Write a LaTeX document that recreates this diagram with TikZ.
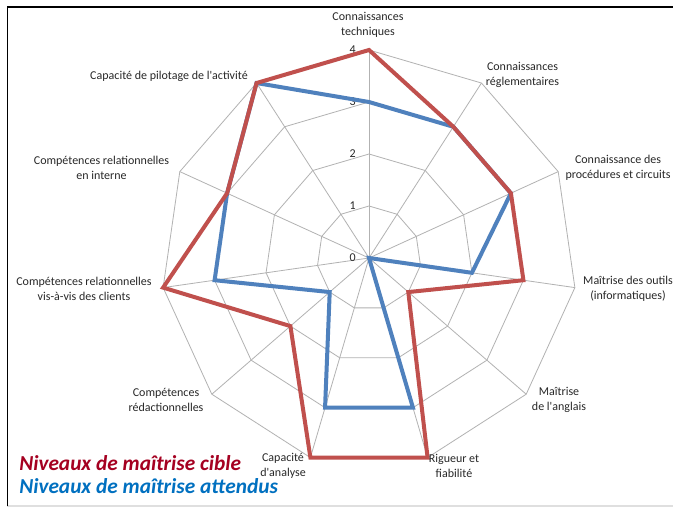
\documentclass[tikz,border=0pt]{standalone}
\usepackage{fontspec}
\setmainfont{Carlito}[Ligatures=TeXOff]
\usetikzlibrary{calc}
\definecolor{gridgray}{RGB}{178,178,178}
\definecolor{serred}{RGB}{192,80,77}
\definecolor{serblue}{RGB}{79,129,189}
\definecolor{legred}{RGB}{165,0,33}
\definecolor{legblue}{RGB}{0,112,192}
\definecolor{lbltext}{RGB}{40,40,40}
\begin{document}
\begin{tikzpicture}[x=0.75pt,y=-0.75pt,
  grid/.style={draw=gridgray,line width=0.6pt},
  serie/.style={line width=3pt,line join=miter},
  lbl/.style={font=\fontsize{9}{10.9}\selectfont,align=center,inner sep=0pt,text=lbltext},
  tick/.style={font=\fontsize{9}{10.9}\selectfont,inner sep=0pt,text=lbltext,anchor=east},
  legend/.style={font=\fontsize{16}{18}\selectfont\bfseries\itshape,inner sep=0pt,anchor=west}]
\useasboundingbox[fill=white] (0,0) rectangle (673,507);
% frame
\draw[gray!25,line width=0.8pt] (7,506) -- (673,506);
\draw[line width=1.4pt] (7.5,506) -- (7.5,7) -- (673,7);
% axes
\coordinate (C) at (369,258);
\foreach \k in {0,...,10}{
  \coordinate (ax\k) at ($(C)+({208*cos(90-\k*360/11)},{-208*sin(90-\k*360/11)})$);
  \draw[grid] (C) -- (ax\k);
}
\foreach \lv in {1,2,3,4}{
  \draw[grid] ($(C)!\lv/4!(ax0)$) \foreach \k in {1,...,10}{ -- ($(C)!\lv/4!(ax\k)$) } -- cycle;
}
% tick labels
\foreach \lv in {0,...,4}{
  \node[tick] (t\lv) at ($(C)+(-13,{-52*\lv})$) {\lv};
}
% series coordinates
\foreach \k/\v in {0/3,1/3,2/3,3/2,4/0,5/3,6/3,7/1,8/3,9/3,10/4}{
  \coordinate (b\k) at ($(C)!\v/4!(ax\k)$);
}
\foreach \k/\v in {0/4,1/3,2/3,3/3,4/1,5/4,6/4,7/2,8/4,9/3,10/4}{
  \coordinate (r\k) at ($(C)!\v/4!(ax\k)$);
}
\draw[serie,serblue] (b0) -- (b1) -- (b2) -- (b3) -- (b4) -- (b5) -- (b6) -- (b7) -- (b8) -- (b9) -- (b10) -- cycle;
\draw[serie,serred] (r0) -- (r1) -- (r2) -- (r3) -- (r4) -- (r5) -- (r6) -- (r7) -- (r8) -- (r9) -- (r10) -- cycle;
% category labels
\node[lbl] (lTech) at (368,25) {Connaissances\\techniques};
\node[lbl] (lRegl) at (522.5,75) {Connaissances\\réglementaires};
\node[lbl] (lProc) at (618,168) {Connaissance des\\procédures et circuits};
\node[lbl] (lOut) at (628,289) {Maîtrise des outils\\(informatiques)};
\node[lbl] (lAng) at (559,400) {Maîtrise\\de l'anglais};
\node[lbl] (lRig) at (454,466) {Rigueur et\\fiabilité};
\node[lbl] (lAna) at (283,466) {Capacité\\d'analyse};
\node[lbl] (lRed) at (166,400) {Compétences\\rédactionnelles};
\node[lbl] (lCli) at (84,289) {Compétences relationnelles\\vis-à-vis des clients};
\node[lbl] (lInt) at (101.5,168) {Compétences relationnelles\\en interne};
\node[lbl] (lPil) at (169,76) {Capacité de pilotage de l'activité};
% legend
\node[legend,text=legred] (legC) at (19,463) {Niveaux de maîtrise cible};
\node[legend,text=legblue] (legA) at (19,486) {Niveaux de maîtrise attendus};
\end{tikzpicture}
\end{document}
